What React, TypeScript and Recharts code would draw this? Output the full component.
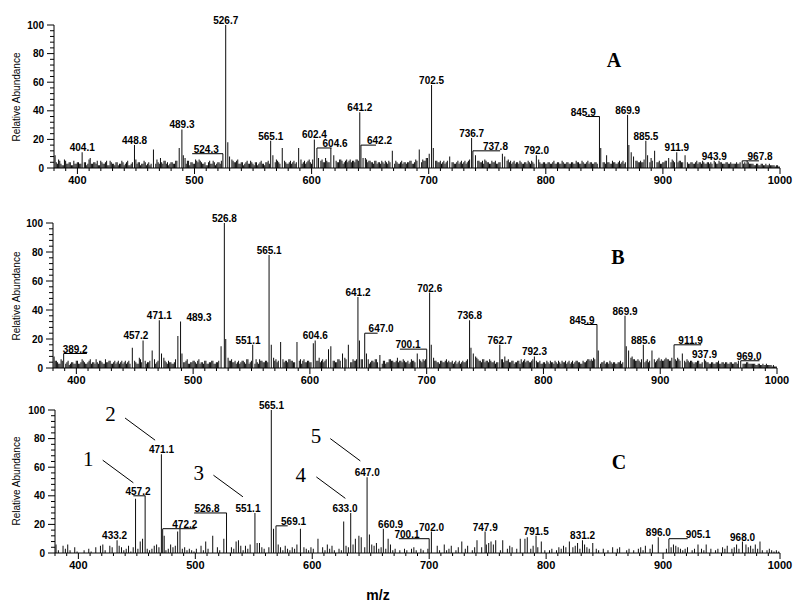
import React from 'react';
import { ComposedChart, Bar, XAxis, YAxis, ReferenceLine, ReferenceDot } from 'recharts';

const SANS = 'Arial, "Liberation Sans", Helvetica, sans-serif';
const SERIF = '"Times New Roman", "Liberation Serif", serif';

// ---- data ----
// background noise: one value per 2 m/z; "odd" series starts at m/z 381, "even" series at 382
const NOISE_STEP = 2;

const noiseAOdd = [
  9,3,5,2,6,3,4,2,5,3, 4,3,6,4,3,7,3,4,5,2, 4,3,5,2,4,3,4,2,3,4, 3,5,2,4,7,3,4,3,5,2,
  4,3,6,3,4,7,3,5,4,3, 4,3,5,2,4,6,3,5,4,3, 6,4,5,3,4,2,5,3,4,3, 4,5,3,6,4,7,5,4,6,3,
  4,3,5,3,4,2,4,3,5,3, 4,5,3,6,4,5,3,4,5,3, 4,3,5,4,3,6,4,3,5,4, 6,4,5,3,6,4,5,4,6,5,
  5,4,6,3,5,4,6,5,4,6, 5,7,4,6,5,4,3,5,4,3, 4,5,3,4,6,3,4,3,5,4, 3,4,5,3,6,4,5,6,5,7,
  8,7,6,5,4,3,5,4,6,3, 4,3,5,4,3,5,4,6,5,8, 6,5,4,3,5,4,3,4,5,3, 4,6,7,5,4,3,5,4,3,4,
  3,4,5,3,4,3,5,4,3,4, 3,4,3,5,3,4,3,4,3,4, 3,4,3,4,3,5,3,4,3,4, 3,4,3,5,4,3,4,3,5,4,
  3,5,4,3,6,8,7,6,5,4, 5,4,6,5,4,5,3,4,5,3, 4,5,3,4,5,6,4,5,4,3, 4,3,4,3,5,4,3,4,3,4,
  4,3,4,3,4,3,3,4,3,3, 3,4,3,4,3,3,4,3,3,2, 3,2,3,2,2,3,2,2,2,1,
];
const noiseAEven = [
  4,6,3,2,5,3,4,2,3,4, 3,5,4,2,6,3,4,3,2,5, 3,4,2,5,3,2,4,3,5,2, 4,2,3,5,6,4,2,3,4,3,
  2,5,4,6,3,4,5,3,2,4, 3,5,2,4,3,7,5,2,4,3, 5,6,4,3,2,4,3,5,2,4, 3,2,6,5,8,6,4,5,3,4,
  2,4,3,5,3,4,2,4,3,2, 4,3,5,4,6,4,3,5,4,3, 5,4,3,5,4,3,5,4,6,3, 5,3,6,5,4,7,4,6,5,4,
  4,6,5,4,6,5,4,5,6,5, 6,5,7,4,5,4,5,3,4,5, 3,4,5,3,4,5,3,4,3,4, 4,5,3,4,5,6,4,5,7,8,
  6,9,5,4,5,4,3,5,4,4, 3,4,3,5,4,3,5,4,6,7, 5,4,5,6,4,3,5,4,3,4, 5,5,8,6,5,4,3,4,5,3,
  4,3,4,5,3,4,6,3,4,3, 4,3,4,3,4,3,5,3,4,3, 4,3,5,4,3,4,3,5,4,3, 4,3,4,3,4,9,4,3,4,3,
  4,3,5,4,5,6,8,6,5,4, 4,6,5,4,7,4,5,4,3,4, 5,3,4,6,4,5,5,4,3,4, 3,4,3,4,3,4,5,3,4,3,
  3,4,3,5,4,3,4,3,4,3, 3,3,4,3,4,5,3,3,2,3, 2,3,2,3,2,2,2,1,2,1,
];

const noiseBOdd = [
  8,5,3,6,4,3,5,3,4,3, 5,3,6,4,3,5,3,4,6,3, 5,3,6,4,5,3,5,4,3,5, 4,3,5,4,9,4,3,6,4,5,
  4,5,3,6,4,8,3,7,4,5, 4,3,6,4,3,9,4,6,3,4, 5,3,6,4,3,5,3,4,5,3, 4,5,6,4,9,5,6,4,3,5,
  4,5,3,6,4,5,3,4,6,5, 4,5,6,4,7,6,5,4,6,5, 4,6,5,4,6,5,3,6,4,5, 4,7,6,5,4,6,5,4,6,5,
  5,4,6,5,4,6,5,4,6,5, 6,7,6,5,4,3,5,4,6,5, 4,5,3,4,6,5,4,7,5,4, 5,4,3,6,5,4,7,5,6,6,
  9,7,6,5,4,3,5,4,6,5, 4,3,5,4,3,5,4,6,5,9, 6,7,5,4,6,5,4,5,4,3, 4,5,6,8,5,4,5,3,4,5,
  6,5,4,5,4,6,3,4,5,3, 4,5,3,4,3,4,5,3,4,5, 4,3,5,4,5,4,3,4,5,6, 6,7,8,4,3,4,3,4,5,3,
  4,3,4,3,4,8,9,7,6,5, 6,4,5,4,6,5,4,6,5,7, 6,5,7,6,5,8,6,7,5,4, 5,6,4,5,3,4,5,3,4,5,
  4,3,4,3,4,3,4,3,4,3, 4,3,4,5,4,3,3,4,3,3, 3,2,3,2,2,3,2,2,2,1,
];
const noiseBEven = [
  5,4,3,5,3,4,2,4,3,5, 3,4,5,3,4,6,4,3,4,5, 4,3,4,5,3,4,3,5,4,3, 5,4,3,6,5,3,7,4,5,3,
  4,6,5,3,5,6,4,5,3,4, 3,4,5,3,6,4,5,3,4,5, 4,5,3,4,5,3,4,5,3,4, 5,3,4,6,7,5,4,5,4,3,
  5,4,6,3,5,4,6,3,5,4, 5,4,5,6,5,4,7,5,4,5, 6,5,4,5,4,6,5,4,5,4, 5,6,5,7,5,4,6,5,4,5,
  4,6,5,4,7,6,5,4,5,6, 5,6,7,5,6,4,5,6,4,5, 3,5,4,6,5,4,5,4,5,6, 4,5,4,5,4,5,6,4,5,7,
  8,6,7,5,4,5,4,5,4,4, 5,4,3,5,4,4,5,5,6,7, 8,6,5,6,4,5,6,4,5,4, 5,6,4,5,6,4,5,4,5,3,
  4,6,5,4,5,4,5,4,3,4, 3,4,5,4,5,3,4,5,4,3, 5,4,3,5,4,3,5,4,6,5, 5,6,7,5,4,5,4,3,4,4,
  3,4,5,4,6,7,8,8,6,5, 5,6,4,5,4,6,5,4,6,5, 5,6,6,5,7,6,5,6,4,5, 4,5,5,4,4,5,3,4,5,4,
  3,4,3,4,5,3,4,4,3,4, 3,4,3,4,4,3,4,3,3,3, 2,3,2,3,2,2,2,1,1,1,
];

const noiseCOdd = [
  6,2,0,5,3,6,2,0,4,1, 0,0,2,0,3,1,0,4,0,5, 6,2,0,5,4,0,3,5,4,2, 3,5,1,4,0,3,8,9,4,3,
  2,3,5,6,4,8,7,2,3,6, 4,5,2,8,3,4,2,3,2,1, 3,0,5,2,8,3,0,2,0,4, 2,0,3,9,0,4,3,8,9,5,
  2,5,3,6,0,3,2,7,4,3, 0,4,6,9,0,6,4,2,5,3, 2,4,3,6,5,2,4,3,2,4, 3,0,2,0,4,2,6,3,5,2,
  0,3,2,0,5,4,8,6,10,11, 12,6,4,8,0,6,5,7,3,4, 5,3,4,6,2,3,0,2,0,3, 2,0,3,4,2,0,3,2,0,3,
  4,3,0,5,2,0,6,2,3,5, 0,2,4,3,0,3,5,0,2,4, 3,0,4,3,6,7,8,6,9,0, 2,3,0,3,5,4,0,3,6,8,
  7,9,0,3,5,2,4,0,3,2, 0,2,3,0,2,4,3,5,4,3, 6,4,5,7,3,8,6,4,3,2, 8,3,2,0,3,0,2,0,4,0,
  3,4,0,0,2,3,0,2,0,3, 4,2,5,0,3,6,0,2,0,0, 0,3,5,4,6,5,4,3,2,3, 4,0,2,3,5,4,3,2,6,0,
  3,0,2,3,0,4,3,5,0,3, 4,6,3,5,0,6,4,5,3,6, 3,5,2,0,2,3,2,1,2,1,
];

// main peaks [m/z, relative abundance]
const peaksA = [
  [404.1, 11], [448.8, 16], [465, 13], [487, 14], [489.3, 27], [490.5, 9], [524.3, 10],
  [526.7, 100], [528.5, 18], [530, 8], [565.1, 19], [567, 9], [575, 14], [589, 14],
  [602.4, 20], [604.6, 14], [606, 7], [616.5, 14], [619, 9], [641.2, 39], [642.2, 16],
  [644, 7], [669, 12], [692, 13], [700.5, 10], [702.5, 58], [704, 14], [718, 8],
  [736.7, 21], [737.8, 12], [740, 9], [763, 10], [765, 8], [792.0, 9], [845.9, 36],
  [847, 14], [869.9, 37], [871, 16], [873, 11], [875, 8], [885.5, 19], [887, 9], [893, 12],
  [905, 7], [911.9, 11], [919, 9], [943.9, 5], [967.8, 5],
];

const peaksB = [
  [389.2, 10], [448, 14], [457.2, 19], [465, 12], [471.1, 33], [473, 10], [487, 22],
  [489.3, 32], [490.5, 10], [524, 15], [526.8, 100], [528, 20], [551.1, 16], [565.1, 78],
  [567, 16], [575, 18], [589, 18], [603, 17], [604.6, 19], [616, 13], [618, 15], [628, 10],
  [633, 16], [641.2, 49], [642.5, 19], [647.0, 24], [648.5, 10], [660, 9], [692, 10],
  [700.1, 13], [702.6, 52], [704, 16], [736.8, 33], [738, 14], [740, 10], [762.7, 16],
  [792.3, 8], [845.9, 30], [847, 12], [869.9, 36], [871, 15], [873, 12], [885.6, 16],
  [893, 12], [911.9, 16], [919, 10], [937.9, 6], [969.0, 5],
];

const peaksC = [
  [433.2, 9], [449, 38], [455, 10], [457.2, 40], [471.1, 69], [472.2, 17], [473.5, 12],
  [485, 15], [487, 17], [515, 12], [524.5, 10], [526.8, 28], [551.1, 28], [553, 7],
  [565.1, 100], [567, 17], [569.1, 19], [590, 17], [605, 10], [627, 22], [633.0, 28],
  [640, 12], [642, 11], [647.0, 53], [649, 13], [660.9, 17], [665, 10], [700.1, 10],
  [702.0, 15], [728, 8], [741, 9], [747.9, 15], [763, 9], [778, 10], [782, 10], [784, 11],
  [791.5, 12], [796, 8], [820, 8], [831.2, 9], [840, 7], [896.0, 11], [905.1, 10],
  [930, 6], [968.0, 8], [983, 8],
];

// peak labels: m/z of labelled peak, optional label centre (lx) and leader line end (to), in m/z
const labelsA = [
  { mz: 404.1 }, { mz: 448.8 }, { mz: 489.3 }, { mz: 524.3, lx: 510, to: 498 },
  { mz: 526.7 }, { mz: 565.1 }, { mz: 602.4 }, { mz: 604.6, lx: 620, to: 617 },
  { mz: 641.2 }, { mz: 642.2, lx: 658, to: 655 }, { mz: 702.5 }, { mz: 736.7 },
  { mz: 737.8, lx: 757, to: 761 }, { mz: 792.0 }, { mz: 845.9, lx: 832, to: 834 },
  { mz: 869.9 }, { mz: 885.5 }, { mz: 911.9 }, { mz: 943.9 }, { mz: 967.8, lx: 983, to: 982 },
];

const labelsB = [
  { mz: 389.2, lx: 399, to: 409 }, { mz: 457.2, lx: 451 }, { mz: 471.1 }, { mz: 489.3, lx: 505 },
  { mz: 526.8 }, { mz: 551.1, lx: 547 }, { mz: 565.1 }, { mz: 604.6 }, { mz: 641.2 },
  { mz: 647.0, lx: 661, to: 658 }, { mz: 700.1, lx: 684, to: 677 }, { mz: 702.6 },
  { mz: 736.8 }, { mz: 762.7 }, { mz: 792.3 }, { mz: 845.9, lx: 833, to: 835 },
  { mz: 869.9 }, { mz: 885.6 }, { mz: 911.9, lx: 926, to: 935 }, { mz: 937.9 },
  { mz: 969.0, lx: 976, to: 985 },
];

const labelsC = [
  { mz: 433.2, lx: 431 }, { mz: 457.2, lx: 451, to: 447 }, { mz: 471.1 },
  { mz: 472.2, lx: 491, to: 500 }, { mz: 526.8, lx: 510, to: 499 }, { mz: 551.1, lx: 545 },
  { mz: 565.1 }, { mz: 569.1, lx: 584, to: 579 }, { mz: 633.0, lx: 628 }, { mz: 647.0 },
  { mz: 660.9, lx: 667 }, { mz: 700.1, lx: 681, to: 674 }, { mz: 702.0 }, { mz: 747.9 },
  { mz: 791.5 }, { mz: 831.2 }, { mz: 896.0 }, { mz: 905.1, lx: 930, to: 921 }, { mz: 968.0 },
];

// numbered annotations in panel C (number text and pointer line, in data coordinates)
const numbersC = [
  { n: '1', tx: 408.5, ty: 66, x1: 420.8, y1: 64.9, x2: 447.0, y2: 49.1 },
  { n: '2', tx: 427.5, ty: 97.5, x1: 439.9, y1: 94.4, x2: 465.6, y2: 78.9 },
  { n: '3', tx: 502.9, ty: 56.5, x1: 515.5, y1: 54.4, x2: 540.7, y2: 39.3 },
  { n: '4', tx: 590.2, ty: 54.6, x1: 603.5, y1: 53.2, x2: 628.3, y2: 38.2 },
  { n: '5', tx: 603.3, ty: 82.0, x1: 615.4, y1: 80.0, x2: 641.1, y2: 64.4 },
];

const X_MAJOR = [400, 500, 600, 700, 800, 900, 1000];
const X_TICKS = Array.from({ length: 63 }, (_, i) => 380 + i * 10);
const Y_MAJOR = [0, 20, 40, 60, 80, 100];
const Y_TICKS = Array.from({ length: 26 }, (_, i) => i * 4);

function buildData(noiseSets: [number, number[]][], peaks: number[][]) {
  const pts = peaks.map(([mz, v]) => ({ mz, v }));
  noiseSets.forEach(([start, noise]) => {
    noise.forEach((v, i) => {
      const mz = start + i * NOISE_STEP;
      if (!peaks.some(([p]) => Math.abs(p - mz) < 1.05)) pts.push({ mz, v });
    });
  });
  return pts.sort((a, b) => a.mz - b.mz);
}

const XTick = (p: any) => {
  const { x, y, payload } = p;
  const v = payload.value;
  const major = X_MAJOR.includes(v);
  return (
    <g>
      <line x1={x} x2={x} y1={y} y2={y + (major ? 6 : 3)} stroke="#000" strokeWidth={1} />
      {major && (
        <text x={x} y={y + 16} textAnchor="middle" fontSize={11} fontWeight="bold" fontFamily={SANS} fill="#000">
          {v}
        </text>
      )}
    </g>
  );
};

const YTick = (p: any) => {
  const { x, y, payload } = p;
  const v = payload.value;
  const major = Y_MAJOR.includes(v);
  return (
    <g>
      <line x1={x - (major ? 7 : 4)} x2={x} y1={y} y2={y} stroke="#000" strokeWidth={1} />
      {major && (
        <text x={x - 10} y={y} dy="0.35em" textAnchor="end" fontSize={10} fontWeight="bold" fontFamily={SANS} fill="#000">
          {v}
        </text>
      )}
    </g>
  );
};

function Panel(props: any) {
  const { top, height, mt, xh, yw, mr, noiseSets, peaks, labels, numbers } = props;
  const data = buildData(noiseSets, peaks);
  const valueOf = (mz: number) => {
    const f = peaks.find((q: number[]) => q[0] === mz);
    return f ? f[1] : 0;
  };
  return (
    <div style={{ position: 'absolute', left: 0, top, width: 800, height }}>
      <ComposedChart width={800} height={height} data={data} margin={{ top: mt, right: mr, bottom: 0, left: 0 }}>
        <XAxis
          dataKey="mz" type="number" domain={[380, 1000]} ticks={X_TICKS} interval={0}
          tick={(tp: any) => <XTick {...tp} />} tickLine={false} tickSize={0} tickMargin={0}
          height={xh} axisLine={{ stroke: '#000' }} allowDataOverflow
        />
        <YAxis
          type="number" domain={[0, 100]} ticks={Y_TICKS} interval={0}
          tick={(tp: any) => <YTick {...tp} />} tickLine={false} tickSize={0} tickMargin={0}
          width={yw} axisLine={{ stroke: '#000' }} allowDataOverflow
        />
        <Bar dataKey="v" fill="#0d0d0d" barSize={1} isAnimationActive={false} />
        {labels.map((l: any, i: number) =>
          l.to !== undefined ? (
            <ReferenceLine
              key={'s' + i}
              segment={[{ x: l.mz, y: valueOf(l.mz) }, { x: l.to, y: valueOf(l.mz) }]}
              stroke="#000" strokeWidth={1} ifOverflow="visible"
            />
          ) : null
        )}
        {labels.map((l: any, i: number) => (
          <ReferenceDot
            key={'t' + i}
            x={l.lx !== undefined ? l.lx : l.mz}
            y={valueOf(l.mz)}
            r={0}
            ifOverflow="visible"
            shape={(sp: any) => (
              <text x={sp.cx} y={sp.cy - 1} textAnchor="middle" fontSize={10} fontWeight="bold" fontFamily={SANS} fill="#000">
                {l.mz.toFixed(1)}
              </text>
            )}
          />
        ))}
        {(numbers || []).map((a: any, i: number) => (
          <ReferenceLine
            key={'nl' + i}
            segment={[{ x: a.x1, y: a.y1 }, { x: a.x2, y: a.y2 }]}
            stroke="#000" strokeWidth={1} ifOverflow="visible"
          />
        ))}
        {(numbers || []).map((a: any, i: number) => (
          <ReferenceDot
            key={'nt' + i}
            x={a.tx}
            y={a.ty}
            r={0}
            ifOverflow="visible"
            shape={(sp: any) => (
              <text x={sp.cx} y={sp.cy} dy="0.35em" textAnchor="middle" fontSize={21} fontFamily={SERIF} fill="#000">
                {a.n}
              </text>
            )}
          />
        ))}
      </ComposedChart>
    </div>
  );
}

export default function App() {
  return (
    <div style={{ position: 'absolute', left: 0, top: 0, width: 800, height: 606, background: '#fff' }}>
      <Panel top={0} height={200} mt={25} xh={32} yw={54} mr={20}
        noiseSets={[[381, noiseAOdd], [382, noiseAEven]]} peaks={peaksA} labels={labelsA} />
      <Panel top={190} height={200} mt={33} xh={22} yw={53} mr={23}
        noiseSets={[[381, noiseBOdd], [382, noiseBEven]]} peaks={peaksB} labels={labelsB} />
      <Panel top={390} height={216} mt={20} xh={53} yw={55} mr={20}
        noiseSets={[[381, noiseCOdd]]} peaks={peaksC} labels={labelsC} numbers={numbersC} />
      <svg width={800} height={606} style={{ position: 'absolute', left: 0, top: 0, pointerEvents: 'none' }}>
        {[97, 296, 481].map((cy, i) => (
          <text key={i} x={16} y={cy} dy="0.35em" transform={`rotate(-90 16 ${cy})`} textAnchor="middle" fontSize={10} fontFamily={SANS} fill="#000">
            Relative Abundance
          </text>
        ))}
        <text x={614} y={60} dy="0.35em" textAnchor="middle" fontSize={20} fontWeight="bold" fontFamily={SERIF}>A</text>
        <text x={618} y={257} dy="0.35em" textAnchor="middle" fontSize={20} fontWeight="bold" fontFamily={SERIF}>B</text>
        <text x={619} y={462} dy="0.35em" textAnchor="middle" fontSize={20} fontWeight="bold" fontFamily={SERIF}>C</text>
        <text x={378} y={595} dy="0.35em" textAnchor="middle" fontSize={14} fontWeight="bold" fontFamily={SANS}>m/z</text>
      </svg>
    </div>
  );
}
